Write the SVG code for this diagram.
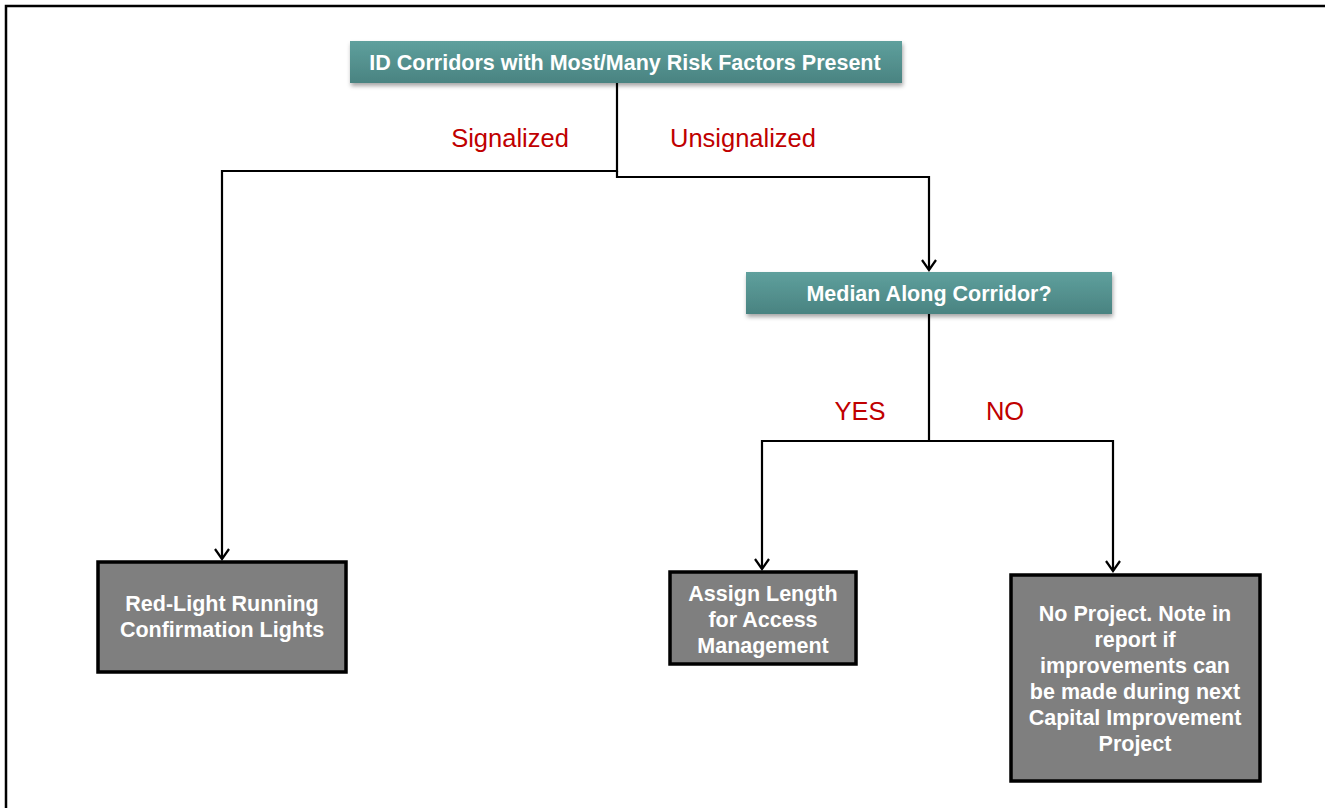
<svg xmlns="http://www.w3.org/2000/svg" width="1325" height="808" viewBox="0 0 1325 808">
<defs>
<linearGradient id="teal" x1="0" y1="0" x2="0" y2="1">
<stop offset="0" stop-color="#5fa09d"/>
<stop offset="1" stop-color="#4a8381"/>
</linearGradient>
<filter id="sh" x="-5%" y="-20%" width="110%" height="160%">
<feDropShadow dx="1" dy="3" stdDeviation="2" flood-color="#000" flood-opacity="0.35"/>
</filter>
<marker id="arr" markerWidth="16" markerHeight="16" refX="14" refY="8" orient="auto" markerUnits="userSpaceOnUse" viewBox="0 0 16 16">
<path d="M4,1 L14,8 L4,15" fill="none" stroke="#000" stroke-width="2.2"/>
</marker>
</defs>
<style>
.t{font-family:"Liberation Sans",Arial,sans-serif;font-weight:bold;fill:#fff;text-anchor:middle;font-size:21.5px}
.lbl{font-family:"Liberation Sans",Arial,sans-serif;fill:#c00000;text-anchor:middle;font-size:25.5px}
.gray{fill:#7f7f7f;stroke:#000;stroke-width:3.5}
.tealbox{fill:url(#teal);filter:url(#sh)}
.c{fill:none;stroke:#000;stroke-width:2.2}
</style>
<rect width="1325" height="808" fill="#fff"/>
<path d="M6,808 V6 H1325" fill="none" stroke="#000" stroke-width="2.5"/>
<g id="connectors">
<path class="c" d="M617,83 V171 H222 V559" marker-end="url(#arr)"/>
<path class="c" d="M617,171 V177 H929 V270" marker-end="url(#arr)"/>
<path class="c" d="M929,314 V441 H762 V569" marker-end="url(#arr)"/>
<path class="c" d="M929,441 H1113 V571" marker-end="url(#arr)"/>
<text class="lbl" x="510" y="147">Signalized</text>
<text class="lbl" x="743" y="147">Unsignalized</text>
<text class="lbl" x="860" y="420">YES</text>
<text class="lbl" x="1005" y="420">NO</text>
</g>
<g id="n1">
<rect class="tealbox" x="350" y="41" width="552" height="42"/>
<text class="t" x="625" y="70">ID Corridors with Most/Many Risk Factors Present</text>
</g>
<g id="n2">
<rect class="tealbox" x="746" y="272" width="366" height="42"/>
<text class="t" x="929" y="301">Median Along Corridor?</text>
</g>
<g id="n3">
<rect class="gray" x="98" y="562" width="248" height="110"/>
<text class="t" x="222" y="611">Red-Light Running</text>
<text class="t" x="222" y="637">Confirmation Lights</text>
</g>
<g id="n4">
<rect class="gray" x="670" y="572" width="186" height="92"/>
<text class="t" x="763" y="601">Assign Length</text>
<text class="t" x="763" y="627">for Access</text>
<text class="t" x="763" y="653">Management</text>
</g>
<g id="n5">
<rect class="gray" x="1011" y="575" width="249" height="206"/>
<text class="t" x="1135" y="621">No Project. Note in</text>
<text class="t" x="1135" y="647">report if</text>
<text class="t" x="1135" y="673">improvements can</text>
<text class="t" x="1135" y="699">be made during next</text>
<text class="t" x="1135" y="725">Capital Improvement</text>
<text class="t" x="1135" y="751">Project</text>
</g>
</svg>
